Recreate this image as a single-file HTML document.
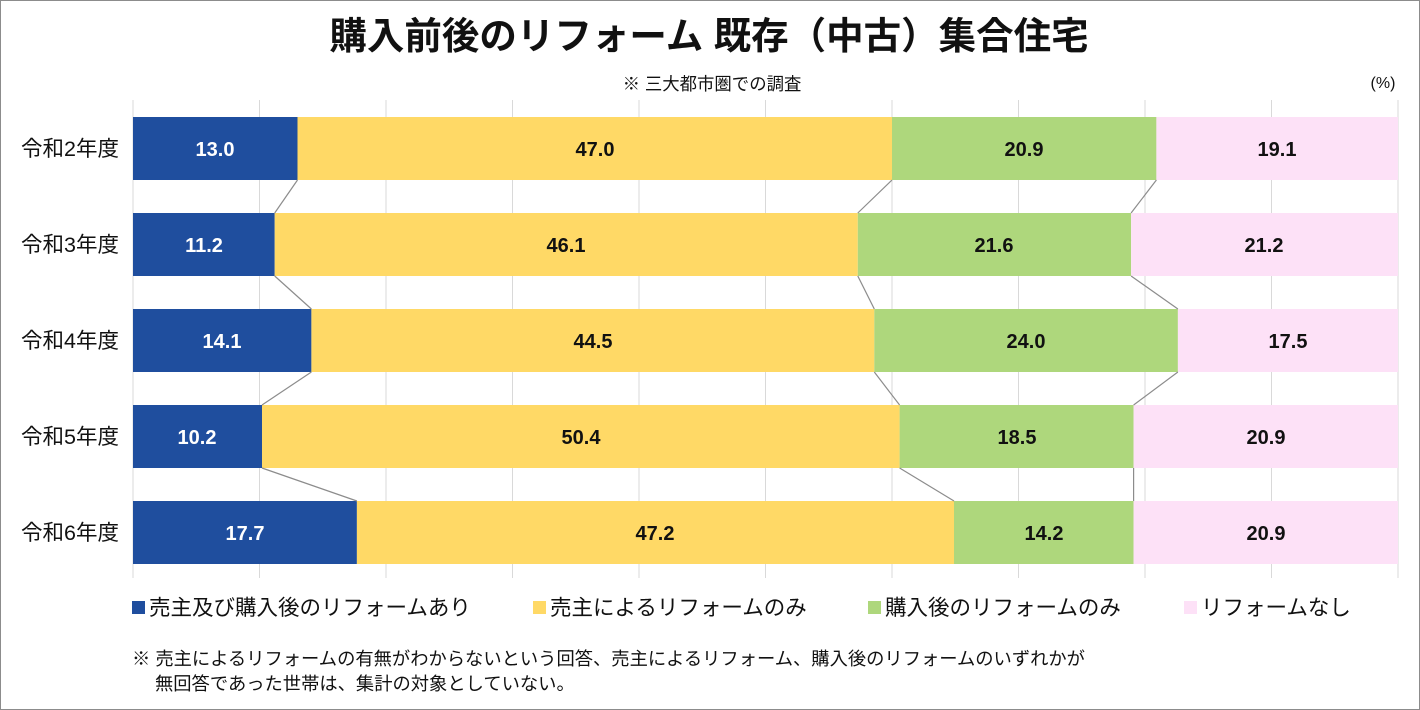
<!DOCTYPE html>
<html><head><meta charset="utf-8"><style>
html,body{margin:0;padding:0;background:#fff}
svg{display:block}
text{font-family:"Liberation Sans","Noto Sans CJK JP",sans-serif}
</style></head><body>
<svg width="1420" height="710" viewBox="0 0 1420 710" xmlns="http://www.w3.org/2000/svg">
<rect x="0.5" y="0.5" width="1419" height="709" fill="#fff" stroke="#8c8c8c" stroke-width="1"/>
<text x="709" y="49" text-anchor="middle" font-size="37.5" font-weight="bold" fill="#111">購入前後のリフォーム 既存（中古）集合住宅</text>
<text x="712" y="90" text-anchor="middle" font-size="17.4" fill="#111">※ 三大都市圏での調査</text>
<text x="1383" y="88" text-anchor="middle" font-size="16" fill="#111">(%)</text>
<g stroke="#d9d9d9" stroke-width="1">
<line x1="133" y1="100" x2="133" y2="578"/><line x1="259.5" y1="100" x2="259.5" y2="578"/><line x1="386" y1="100" x2="386" y2="578"/><line x1="512.5" y1="100" x2="512.5" y2="578"/><line x1="639" y1="100" x2="639" y2="578"/><line x1="765.5" y1="100" x2="765.5" y2="578"/><line x1="892" y1="100" x2="892" y2="578"/><line x1="1018.5" y1="100" x2="1018.5" y2="578"/><line x1="1145" y1="100" x2="1145" y2="578"/><line x1="1271.5" y1="100" x2="1271.5" y2="578"/><line x1="1398" y1="100" x2="1398" y2="578"/>
</g>
<g>
<rect x="133" y="117" width="164.5" height="63" fill="#1f4e9e"/><rect x="297.5" y="117" width="594.5" height="63" fill="#ffd966"/><rect x="892" y="117" width="264.4" height="63" fill="#aed77c"/><rect x="1156.4" y="117" width="241.6" height="63" fill="#fde1f7"/>
<rect x="133" y="213" width="141.7" height="63" fill="#1f4e9e"/><rect x="274.7" y="213" width="583.1" height="63" fill="#ffd966"/><rect x="857.8" y="213" width="273.3" height="63" fill="#aed77c"/><rect x="1131.1" y="213" width="266.9" height="63" fill="#fde1f7"/>
<rect x="133" y="309" width="178.4" height="63" fill="#1f4e9e"/><rect x="311.4" y="309" width="562.9" height="63" fill="#ffd966"/><rect x="874.3" y="309" width="303.6" height="63" fill="#aed77c"/><rect x="1177.9" y="309" width="220.1" height="63" fill="#fde1f7"/>
<rect x="133" y="405" width="129" height="63" fill="#1f4e9e"/><rect x="262" y="405" width="637.6" height="63" fill="#ffd966"/><rect x="899.6" y="405" width="234" height="63" fill="#aed77c"/><rect x="1133.6" y="405" width="264.4" height="63" fill="#fde1f7"/>
<rect x="133" y="501" width="223.9" height="63" fill="#1f4e9e"/><rect x="356.9" y="501" width="597.1" height="63" fill="#ffd966"/><rect x="954" y="501" width="179.6" height="63" fill="#aed77c"/><rect x="1133.6" y="501" width="264.4" height="63" fill="#fde1f7"/>
</g>
<g stroke="#8c8c8c" stroke-width="1.2" fill="none">
<line x1="297.5" y1="180" x2="274.7" y2="213"/><line x1="892" y1="180" x2="857.8" y2="213"/><line x1="1156.4" y1="180" x2="1131.1" y2="213"/>
<line x1="274.7" y1="276" x2="311.4" y2="309"/><line x1="857.8" y1="276" x2="874.3" y2="309"/><line x1="1131.1" y1="276" x2="1177.9" y2="309"/>
<line x1="311.4" y1="372" x2="262" y2="405"/><line x1="874.3" y1="372" x2="899.6" y2="405"/><line x1="1177.9" y1="372" x2="1133.6" y2="405"/>
<line x1="262" y1="468" x2="356.9" y2="501"/><line x1="899.6" y1="468" x2="954" y2="501"/><line x1="1133.6" y1="468" x2="1133.6" y2="501"/>
</g>
<g font-size="20" font-weight="bold" text-anchor="middle" fill="#111">
<text x="215" y="156" fill="#fff">13.0</text><text x="595" y="156">47.0</text><text x="1024" y="156">20.9</text><text x="1277" y="156">19.1</text>
<text x="204" y="252" fill="#fff">11.2</text><text x="566" y="252">46.1</text><text x="994" y="252">21.6</text><text x="1264" y="252">21.2</text>
<text x="222" y="348" fill="#fff">14.1</text><text x="593" y="348">44.5</text><text x="1026" y="348">24.0</text><text x="1288" y="348">17.5</text>
<text x="197" y="444" fill="#fff">10.2</text><text x="581" y="444">50.4</text><text x="1017" y="444">18.5</text><text x="1266" y="444">20.9</text>
<text x="245" y="540" fill="#fff">17.7</text><text x="655" y="540">47.2</text><text x="1044" y="540">14.2</text><text x="1266" y="540">20.9</text>
</g>
<g font-size="21.5" text-anchor="end" fill="#111">
<text x="119" y="156">令和2年度</text><text x="119" y="252">令和3年度</text><text x="119" y="348">令和4年度</text><text x="119" y="444">令和5年度</text><text x="119" y="540">令和6年度</text>
</g>
<g font-size="21.5" fill="#111">
<rect x="132" y="601" width="13" height="13" fill="#1f4e9e"/><text x="149" y="615">売主及び購入後のリフォームあり</text>
<rect x="533" y="601" width="13" height="13" fill="#ffd966"/><text x="550" y="615">売主によるリフォームのみ</text>
<rect x="868" y="601" width="13" height="13" fill="#aed77c"/><text x="885" y="615">購入後のリフォームのみ</text>
<rect x="1184" y="601" width="13" height="13" fill="#fde1f7"/><text x="1201" y="615">リフォームなし</text>
</g>
<g font-size="18.3" fill="#111">
<text x="132" y="665">※ 売主によるリフォームの有無がわからないという回答、売主によるリフォーム、購入後のリフォームのいずれかが</text>
<text x="155" y="690">無回答であった世帯は、集計の対象としていない。</text>
</g>
</svg>
</body></html>
